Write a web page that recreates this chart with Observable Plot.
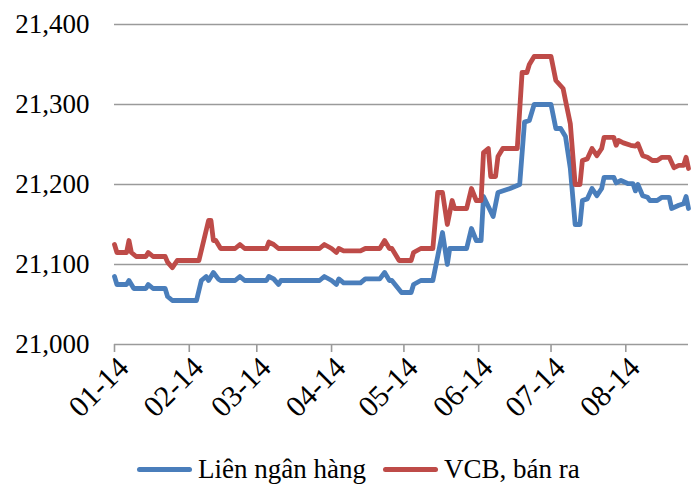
<!DOCTYPE html>
<html>
<head>
<meta charset="utf-8">
<script src="https://cdn.jsdelivr.net/npm/d3@7"></script>
<script src="https://cdn.jsdelivr.net/npm/@observablehq/plot@0.6"></script>
<style>
  html, body { margin: 0; padding: 0; background: #fff; }
  #chart { width: 698px; }
  .legend { display: flex; align-items: center; height: 47px; padding-top: 6px; font-family: "Liberation Serif", "Times New Roman", serif; font-size: 27px; color: #000; }
  .legend .sw { display: inline-block; width: 55px; height: 5px; border-radius: 3px; margin-right: 6px; }
  .legend .item { display: flex; align-items: center; }
</style>
</head>
<body>
<div id="chart"></div>
<script>
// Liên ngân hàng (interbank rate)
const interbankDates = ["2014-01-01","2014-01-02","2014-01-06","2014-01-07","2014-01-09","2014-01-14","2014-01-15","2014-01-17","2014-01-22","2014-01-23","2014-01-25","2014-02-04","2014-02-06","2014-02-08","2014-02-09","2014-02-11","2014-02-13","2014-02-14","2014-02-20","2014-02-22","2014-02-24","2014-03-05","2014-03-06","2014-03-08","2014-03-10","2014-03-11","2014-03-27","2014-03-29","2014-04-01","2014-04-03","2014-04-04","2014-04-06","2014-04-13","2014-04-15","2014-04-21","2014-04-23","2014-04-25","2014-04-26","2014-04-30","2014-05-04","2014-05-05","2014-05-08","2014-05-13","2014-05-17","2014-05-19","2014-05-20","2014-05-27","2014-05-29","2014-05-31","2014-06-02","2014-06-03","2014-06-07","2014-06-09","2014-06-14","2014-06-18","2014-06-20","2014-06-22","2014-06-24","2014-07-01","2014-07-03","2014-07-05","2014-07-07","2014-07-09","2014-07-11","2014-07-13","2014-07-14","2014-07-16","2014-07-18","2014-07-20","2014-07-22","2014-07-23","2014-07-27","2014-07-28","2014-07-30","2014-08-02","2014-08-04","2014-08-05","2014-08-06","2014-08-08","2014-08-10","2014-08-11","2014-08-14","2014-08-16","2014-08-19","2014-08-20","2014-08-23","2014-08-25","2014-08-26","2014-08-27"];
const interbankValues = [21085,21075,21075,21080,21070,21070,21075,21070,21070,21060,21055,21055,21080,21085,21080,21090,21082,21080,21080,21085,21080,21080,21085,21082,21075,21080,21080,21085,21080,21075,21082,21077,21077,21082,21082,21090,21080,21080,21065,21065,21075,21080,21080,21140,21100,21120,21120,21145,21130,21130,21185,21160,21190,21195,21200,21278,21280,21300,21300,21270,21270,21260,21220,21150,21150,21180,21182,21195,21186,21195,21209,21209,21202,21205,21201,21201,21192,21200,21186,21184,21180,21180,21184,21184,21170,21174,21176,21185,21170];

// VCB, bán ra (VCB selling rate)
const vcbDates = ["2014-01-01","2014-01-02","2014-01-06","2014-01-07","2014-01-08","2014-01-10","2014-01-14","2014-01-15","2014-01-17","2014-01-22","2014-01-23","2014-01-25","2014-01-27","2014-02-05","2014-02-07","2014-02-09","2014-02-10","2014-02-11","2014-02-12","2014-02-14","2014-02-20","2014-02-22","2014-02-24","2014-03-05","2014-03-06","2014-03-08","2014-03-10","2014-03-27","2014-03-29","2014-04-01","2014-04-03","2014-04-04","2014-04-06","2014-04-13","2014-04-15","2014-04-21","2014-04-23","2014-04-25","2014-04-26","2014-04-29","2014-05-04","2014-05-05","2014-05-08","2014-05-13","2014-05-15","2014-05-17","2014-05-19","2014-05-21","2014-05-22","2014-05-27","2014-05-29","2014-05-31","2014-06-02","2014-06-03","2014-06-05","2014-06-06","2014-06-08","2014-06-09","2014-06-11","2014-06-17","2014-06-19","2014-06-21","2014-06-22","2014-06-24","2014-07-01","2014-07-03","2014-07-06","2014-07-07","2014-07-09","2014-07-11","2014-07-13","2014-07-14","2014-07-16","2014-07-18","2014-07-20","2014-07-22","2014-07-23","2014-07-27","2014-07-28","2014-07-29","2014-07-31","2014-08-03","2014-08-05","2014-08-06","2014-08-08","2014-08-10","2014-08-12","2014-08-14","2014-08-16","2014-08-19","2014-08-21","2014-08-23","2014-08-25","2014-08-26","2014-08-27"];
const vcbValues = [21125,21115,21115,21130,21115,21110,21110,21115,21110,21110,21103,21096,21105,21105,21130,21155,21155,21130,21130,21120,21120,21125,21120,21120,21128,21125,21120,21120,21125,21120,21115,21120,21117,21117,21120,21120,21130,21120,21120,21105,21105,21115,21120,21120,21190,21190,21150,21180,21170,21170,21195,21180,21180,21240,21245,21210,21210,21235,21245,21245,21340,21340,21350,21360,21360,21330,21320,21305,21276,21200,21200,21230,21232,21245,21236,21245,21259,21259,21249,21255,21252,21249,21248,21251,21236,21234,21230,21230,21234,21234,21221,21224,21224,21234,21220];

const seriesNames = ["Liên ngân hàng", "VCB, bán ra"];
const seriesColors = ["#4a7ebb", "#be4b48"];
const monthTicks = ["2014-01-01","2014-02-01","2014-03-01","2014-04-01","2014-05-01","2014-06-01","2014-07-01","2014-08-01"];
const yTicks = [21000, 21100, 21200, 21300, 21400];
const xDomain = ["2014-01-01", "2014-08-27"];

const parse = d3.utcParse("%Y-%m-%d");
const interbank = interbankDates.map((d, i) => ({date: parse(d), value: interbankValues[i]}));
const vcb = vcbDates.map((d, i) => ({date: parse(d), value: vcbValues[i]}));
const monthDates = monthTicks.map(parse);

const chart = Plot.plot({
  width: 698,
  height: 440,
  marginLeft: 114,
  marginRight: 10,
  marginTop: 24,
  marginBottom: 96,
  style: {fontFamily: "'Liberation Serif', 'Times New Roman', serif", fontSize: "27px", color: "#000", background: "#fff"},
  x: {type: "utc", domain: xDomain.map(parse)},
  y: {domain: [21000, 21400]},
  marks: [
    Plot.gridY(yTicks, {stroke: "#9a9a9a", strokeOpacity: 1, strokeWidth: 1.6}),
    Plot.axisY(yTicks, {tickSize: 0, tickPadding: 25, tickFormat: d3.format(","), label: null}),
    // month tick marks
    Plot.axisX(monthDates, {tickSize: 8, stroke: "#9a9a9a", strokeWidth: 1.6, tickFormat: () => "", label: null}),
    // rotated month labels
    Plot.axisX(monthDates, {tickSize: 0, tickRotate: -45, tickFormat: d3.utcFormat("%m-%y"), label: null, tickPadding: 8, dx: 9, dy: 10, fontSize: 30}),
    Plot.line(interbank, {x: "date", y: "value", stroke: seriesColors[0], strokeWidth: 4.8, strokeLinejoin: "round", strokeLinecap: "round"}),
    Plot.line(vcb, {x: "date", y: "value", stroke: seriesColors[1], strokeWidth: 4.8, strokeLinejoin: "round", strokeLinecap: "round"})
  ]
});
document.getElementById("chart").appendChild(chart);

const legend = document.createElement("div");
legend.className = "legend";
legend.style.paddingLeft = "137px";
seriesNames.forEach((name, i) => {
  const item = document.createElement("span");
  item.className = "item";
  if (i > 0) item.style.marginLeft = "17px";
  const sw = document.createElement("span");
  sw.className = "sw";
  sw.style.background = seriesColors[i];
  item.appendChild(sw);
  item.appendChild(document.createTextNode(name));
  legend.appendChild(item);
});
document.getElementById("chart").appendChild(legend);
</script>
</body>
</html>
